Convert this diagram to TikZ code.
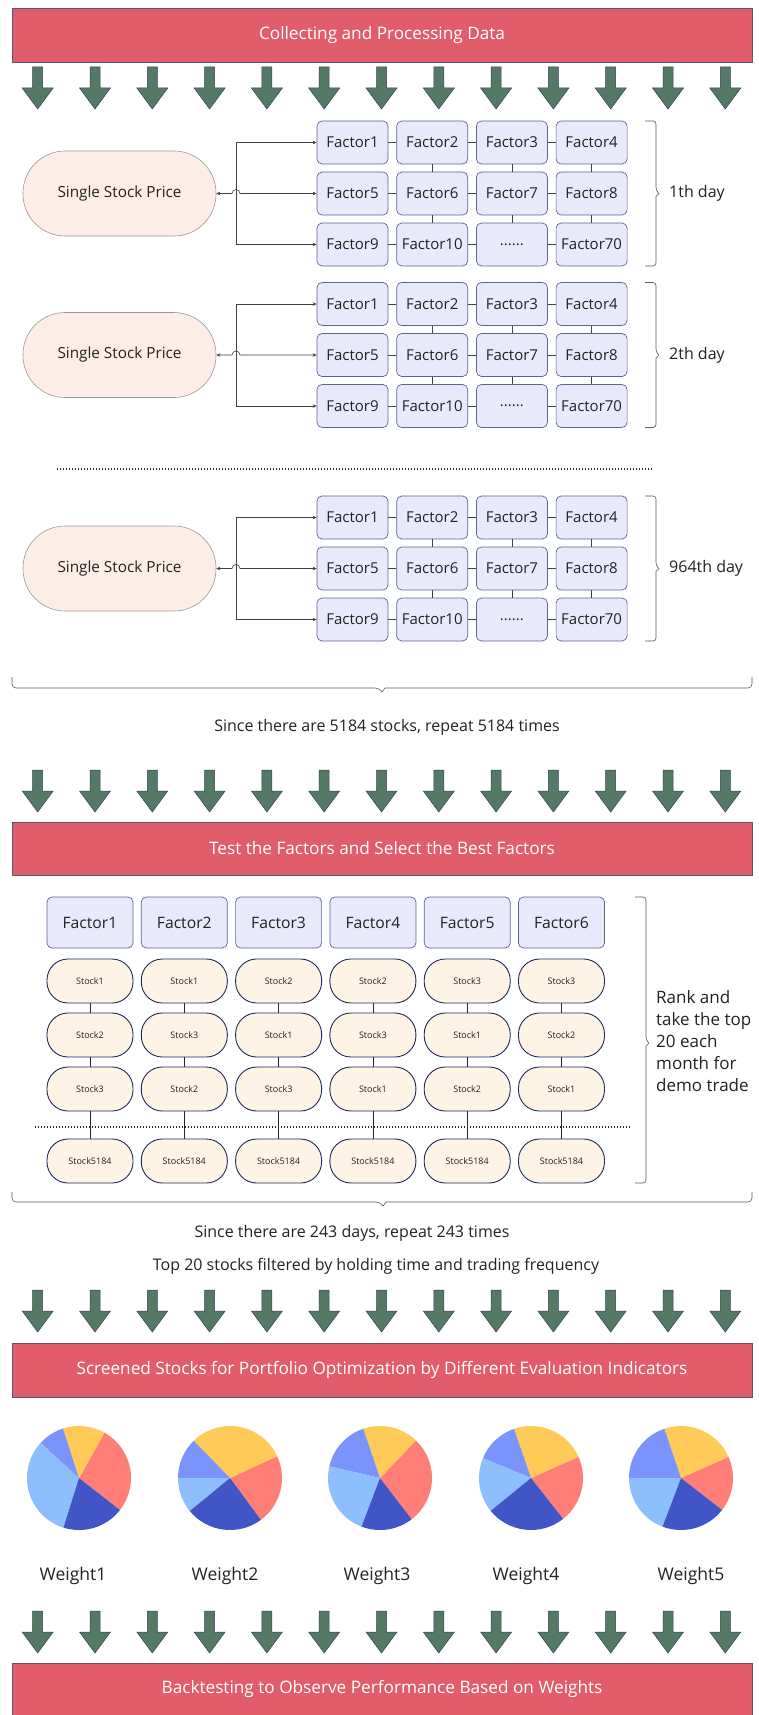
\documentclass[tikz,border=0pt]{standalone}
\usepackage{fontspec}
\setmainfont{Open Sans}
\usetikzlibrary{arrows.meta,calc}
\definecolor{bannerred}{HTML}{E25D6B}
\definecolor{bannerline}{HTML}{5A5570}
\definecolor{arrowgreen}{HTML}{547A66}
\definecolor{arrowline}{HTML}{34405A}
\definecolor{factorfill}{HTML}{E8EAFC}
\definecolor{factorline}{HTML}{5C6590}
\definecolor{peach}{HTML}{FCEEE6}
\definecolor{stockfill}{HTML}{FEF4E6}
\definecolor{stockline}{HTML}{1F2A5A}
\definecolor{txt}{HTML}{222222}
\definecolor{pyellow}{HTML}{FFCA57}
\definecolor{psalmon}{HTML}{FF7F78}
\definecolor{pdark}{HTML}{4155C7}
\definecolor{plight}{HTML}{8DBEFE}
\definecolor{pperi}{HTML}{7B93FD}
\newcommand\fsz[1]{\fontsize{#1}{#1}\selectfont}
\newcommand\sixdots{......}
\newcommand\pieslice[4]{\fill[#4] (#1) -- ++(#2:52pt) arc[start angle=#2, end angle=#3, radius=52pt] -- cycle;}
\tikzset{
  banner/.style={rectangle, fill=bannerred, draw=bannerline, line width=0.6pt, text=white, font=\fsz{17.2}, minimum width=740pt, minimum height=54pt, inner sep=0pt},
  darrow/.pic={\draw[fill=arrowgreen, draw=arrowline, line width=0.5pt] (-5,0) -- (5,0) -- (5,21) -- (15.5,21) -- (0,42) -- (-15.5,21) -- (-5,21) -- cycle;},
  factorbox/.style={rectangle, rounded corners=5pt, fill=factorfill, draw=factorline, line width=0.7pt, minimum width=71pt, minimum height=43pt, inner sep=0pt, font=\fsz{15}, text=txt},
  tfactor/.style={factorbox, minimum width=86pt, minimum height=51pt, font=\fsz{15.7}},
  pricebox/.style={rectangle, rounded corners=42pt, fill=peach, draw=gray!80, line width=0.6pt, minimum width=193pt, minimum height=85pt, font=\fsz{15.3}, text=txt},
  stockbox/.style={rectangle, rounded corners=21pt, fill=stockfill, draw=stockline, line width=0.9pt, minimum width=86pt, minimum height=44pt, inner sep=0pt, font=\fsz{9}, text=txt},
  link/.style={draw=black!75, line width=0.6pt},
  arr/.style={link, -{Stealth[length=4pt,width=3.5pt]}},
  bracestyle/.style={draw=black!65, line width=0.6pt},
  note/.style={font=\fsz{16}, text=txt, inner sep=0pt},
  dotline/.style={draw=black!85, line width=1.4pt, dash pattern=on 1.4pt off 1.6pt}
}
\begin{document}
\begin{tikzpicture}[x=1pt,y=-1pt]
\useasboundingbox (0,0) rectangle (759,1715);
\fill[white] (0,0) rectangle (759,1715);

% banners
\node[banner] (b1) at (382,35) {Collecting and Processing Data};
\node[banner, minimum height=53pt] (b2) at (382,848.5) {Test the Factors and Select the Best Factors};
\node[banner] (b3) at (382,1370) {Screened Stocks for Portfolio Optimization by Different Evaluation Indicators};
\node[banner, minimum height=52pt] (b4) at (382,1689) {Backtesting to Observe Performance Based on Weights};

% arrow rows
\foreach \yy in {67,770,1290,1611} {
  \foreach \i in {0,1,2,3,4,5,6,7,8,9,10,11,12} {
    \pic at ({37.7+57.3*\i},\yy) {darrow};
  }
}

% day blocks
\foreach \b/\y/\dlab in {1/142.5/1th day, 2/304/2th day, 3/517.5/964th day} {
  \foreach \r/\la/\lb/\lc/\ld in {1/Factor1/Factor2/Factor3/Factor4, 2/Factor5/Factor6/Factor7/Factor8, 3/Factor9/Factor10/\sixdots/Factor70} {
    \foreach \c/\lab in {1/\la, 2/\lb, 3/\lc, 4/\ld} {
      \node[factorbox] (d\b-\r-\c) at ({352.5+79.7*(\c-1)}, {\y+51*(\r-1)}) {\lab};
    }
  }
  \foreach \r in {1,2,3} {
    \foreach \c/\n in {1/2,2/3,3/4} {
      \draw[link] (d\b-\r-\c) -- (d\b-\r-\n);
    }
  }
  \foreach \r/\rn in {1/2,2/3} {
    \foreach \c in {2,3,4} {
      \draw[link] (d\b-\r-\c) -- (d\b-\rn-\c);
    }
  }
  \node[pricebox] (p\b) at (119.5, {\y+51}) {Single Stock Price};
  \coordinate (ta\b) at (236,\y);
  \coordinate (tc\b) at (236,{\y+102});
  \coordinate (hop\b) at (232,{\y+51});
  \draw[link] (ta\b) -- (tc\b);
  \draw[arr] (ta\b) -- (d\b-1-1.west);
  \draw[arr] (tc\b) -- (d\b-3-1.west);
  \draw[link, {Stealth[length=4pt,width=3.5pt]}-{Stealth[length=4pt,width=3.5pt]}] (p\b.east) -- (hop\b) arc[start angle=180,end angle=0,radius=4pt] -- (d\b-2-1.west);
  \draw[bracestyle, rounded corners=3pt] (645,{\y-21.5}) -- (656,{\y-21.5}) -- (656,{\y+48}) [sharp corners] -- (659,{\y+51}) -- (656,{\y+54}) [rounded corners=3pt] -- (656,{\y+123.5}) -- (645,{\y+123.5});
  \node[note, anchor=west] (dl\b) at (669,{\y+51}) {\dlab};
}

\draw[dotline] (57,469) -- (652,469);

% brace under day blocks
\draw[bracestyle, rounded corners=4pt] (12,677) -- (12,688) -- (379,688) [sharp corners] -- (382,692) -- (385,688) [rounded corners=4pt] -- (752,688) -- (752,677);
\node[note] (t1) at (387,727) {Since there are 5184 stocks, repeat 5184 times};

% test section
\draw[dotline] (35,1127) -- (630,1127);
\foreach \c/\sa/\sb/\sc in {1/1/2/3, 2/1/3/2, 3/2/1/3, 4/2/3/1, 5/3/1/2, 6/3/2/1} {
  \pgfmathsetmacro\xx{90+94.3*(\c-1)}
  \node[tfactor] (tf\c) at (\xx,922.5) {Factor\c};
  \node[stockbox] (sa\c) at (\xx,981) {Stock\sa};
  \node[stockbox] (sb\c) at (\xx,1035) {Stock\sb};
  \node[stockbox] (sc\c) at (\xx,1089) {Stock\sc};
  \node[stockbox] (sd\c) at (\xx,1161) {Stock5184};
  \draw[link, draw=black!85, line width=0.8pt] (sa\c) -- (sb\c);
  \draw[link, draw=black!85, line width=0.8pt] (sb\c) -- (sc\c);
  \draw[link, draw=black!85, line width=0.8pt] (sc\c) -- (sd\c);
}
\draw[bracestyle, rounded corners=3pt] (635,897) -- (646,897) -- (646,1040) [sharp corners] -- (649,1043) -- (646,1046) [rounded corners=3pt] -- (646,1183) -- (635,1183);
\node[note, anchor=west, align=left, font=\fontsize{17}{22}\selectfont] (rk) at (656,1041) {Rank and\\take the top\\20 each\\month for\\demo trade};

\draw[bracestyle, rounded corners=4pt] (12,1192) -- (12,1202) -- (380,1202) [sharp corners] -- (383,1206) -- (386,1202) [rounded corners=4pt] -- (752,1202) -- (752,1192);
\node[note] (t2) at (352,1233) {Since there are 243 days, repeat 243 times};
\node[note] (t3) at (376,1266) {Top 20 stocks filtered by holding time and trading frequency};

% pies
\coordinate (pc1) at (79,1478);
\coordinate (pc2) at (230,1478);
\coordinate (pc3) at (380,1478);
\coordinate (pc4) at (531,1478);
\coordinate (pc5) at (681,1478);
\pieslice{pc1}{-38}{60.6}{psalmon}
\pieslice{pc1}{60.6}{108}{pyellow}
\pieslice{pc1}{108}{137.6}{pperi}
\pieslice{pc1}{137.6}{252.6}{plight}
\pieslice{pc1}{252.6}{322}{pdark}
\pieslice{pc2}{-53.6}{24.9}{psalmon}
\pieslice{pc2}{24.9}{134.2}{pyellow}
\pieslice{pc2}{134.2}{180}{pperi}
\pieslice{pc2}{180}{219.4}{plight}
\pieslice{pc2}{219.4}{306.4}{pdark}
\pieslice{pc3}{-52.5}{46.3}{psalmon}
\pieslice{pc3}{46.3}{108.8}{pyellow}
\pieslice{pc3}{108.8}{167}{pperi}
\pieslice{pc3}{167}{249.2}{plight}
\pieslice{pc3}{249.2}{307.5}{pdark}
\pieslice{pc4}{-51.8}{24.2}{psalmon}
\pieslice{pc4}{24.2}{109}{pyellow}
\pieslice{pc4}{109}{157.5}{pperi}
\pieslice{pc4}{157.5}{219.2}{plight}
\pieslice{pc4}{219.2}{308.2}{pdark}
\pieslice{pc5}{-37.9}{24}{psalmon}
\pieslice{pc5}{24}{108.6}{pyellow}
\pieslice{pc5}{108.6}{180}{pperi}
\pieslice{pc5}{180}{249.2}{plight}
\pieslice{pc5}{249.2}{322.1}{pdark}

\node[note, font=\fsz{17.5}] (w1) at (73,1576) {Weight1};
\node[note, font=\fsz{17.5}] (w2) at (225,1576) {Weight2};
\node[note, font=\fsz{17.5}] (w3) at (377,1576) {Weight3};
\node[note, font=\fsz{17.5}] (w4) at (526,1576) {Weight4};
\node[note, font=\fsz{17.5}] (w5) at (691,1576) {Weight5};
\end{tikzpicture}
\end{document}
